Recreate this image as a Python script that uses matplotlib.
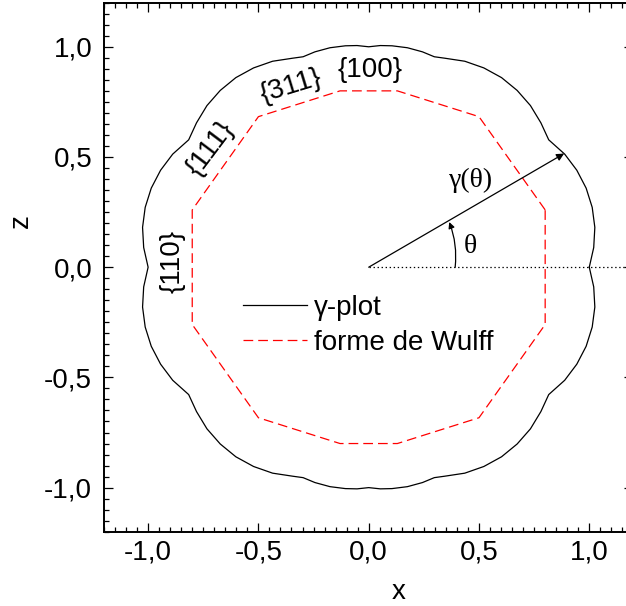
import numpy as np
import matplotlib
matplotlib.use("Agg")
import matplotlib.pyplot as plt
from matplotlib.ticker import MultipleLocator, FuncFormatter
from matplotlib.patches import FancyArrowPatch

plt.rcParams['font.family'] = ['Liberation Sans', 'DejaVu Sans']
plt.rcParams['lines.scale_dashes'] = False

# gamma-plot, first quadrant (theta in degrees, radius)
gamma_theta = [0, 5, 10, 15, 20, 25, 30, 35.3, 40, 45, 50, 55, 60, 65, 70, 72.7,
               76, 80, 84, 87, 90]
gamma_r = [1.000, 1.024, 1.041, 1.049, 1.049, 1.041, 1.026, 1.000,
           1.019, 1.037, 1.047, 1.050, 1.044, 1.031, 1.009, 1.000,
           1.007, 1.011, 1.010, 1.007, 1.000]

# Wulff shape vertices (x, z)
wulff_x = [0.80, 0.50, 0.13, -0.13, -0.50, -0.80, -0.80, -0.50, -0.13, 0.13, 0.50, 0.80, 0.80]
wulff_z = [0.26, 0.683, 0.80, 0.80, 0.683, 0.26, -0.26, -0.683, -0.80, -0.80, -0.683, -0.26, 0.26]

# facet labels
facet_labels = ['{100}', '{311}', '{111}', '{110}']
facet_x = [0.005, -0.353, -0.715, -0.887]
facet_z = [0.895, 0.822, 0.538, 0.025]
facet_rot = [0, 17, 53, 90]

legend_labels = ['γ-plot', 'forme de Wulff']

FS = 20

# build full closed curve by symmetry
th1 = np.radians(np.array(gamma_theta))
r1 = np.array(gamma_r)
th = np.concatenate([th1, np.pi - th1[::-1], np.pi + th1, 2 * np.pi - th1[::-1]])
rr = np.concatenate([r1, r1[::-1], r1, r1[::-1]])
gx = rr * np.cos(th)
gz = rr * np.sin(th)

W, H = 626, 606
fig = plt.figure(figsize=(W / 100, H / 100), dpi=100)
left, right, top, bottom = 104, 633.4, 2.7, 531.7
ax = fig.add_axes([left / W, (H - bottom) / H, (right - left) / W, (bottom - top) / H])

ax.plot(gx, gz, color='black', lw=0.9, label=legend_labels[0])
ax.plot(wulff_x, wulff_z, color='red', lw=0.9, dashes=(7, 3.6), label=legend_labels[1])

# dotted reference line
ax.plot([0, 1.2], [0, 0], color='black', lw=0.9, dashes=(1.0, 1.9))

# gamma(theta) arrow at 30 degrees
ang = np.radians(30.2)
ra = 1.025
ax.annotate('', xy=(ra * np.cos(ang), ra * np.sin(ang)), xytext=(0, 0),
            arrowprops=dict(arrowstyle='-|>', color='black', lw=0.9,
                            mutation_scale=11, shrinkA=0, shrinkB=0))
# theta arc arrow
arc = FancyArrowPatch((0.392, 0.0), (0.365, 0.205), connectionstyle='arc3,rad=0.12',
                      arrowstyle='-|>', mutation_scale=9, color='black', lw=0.9,
                      shrinkA=0, shrinkB=0)
ax.add_patch(arc)

serif = ['Liberation Serif', 'DejaVu Serif']
ax.text(0.463, 0.393, 'γ(θ)', fontsize=FS, family=serif, ha='center', va='center')
ax.text(0.463, 0.095, 'θ', fontsize=FS, family=serif, ha='center', va='center')

for lab, x, z, rot in zip(facet_labels, facet_x, facet_z, facet_rot):
    ax.text(x, z, lab, fontsize=FS, rotation=rot, ha='center', va='center')

ax.set_xlim(-1.2, 1.2)
ax.set_ylim(-1.2, 1.2)

fmt = FuncFormatter(lambda v, p: f"{v:.1f}".replace('.', ','))
ax.xaxis.set_major_locator(MultipleLocator(0.5))
ax.yaxis.set_major_locator(MultipleLocator(0.5))
ax.xaxis.set_minor_locator(MultipleLocator(0.05))
ax.yaxis.set_minor_locator(MultipleLocator(0.05))
ax.xaxis.set_major_formatter(fmt)
ax.yaxis.set_major_formatter(fmt)
ax.tick_params(which='both', direction='in', top=True, right=True, width=0.9)
ax.tick_params(which='major', length=6.5, labelsize=FS)
ax.tick_params(which='minor', length=3.6)
ax.tick_params(axis='x', which='major', pad=5.8)
ax.tick_params(axis='y', which='major', pad=8.5)
for s in ax.spines.values():
    s.set_linewidth(1.4)

fig.text(399 / W, (H - 599) / H, 'x', fontsize=FS, ha='center', va='baseline')
fig.text(20.5 / W, 1 - 221 / H, 'z', fontsize=FS, rotation=90, ha='center', va='center')

x0 = (243 - 368.8) / 220.5
y0 = (267 - 295) / 221.3
ax.legend(loc='upper left', bbox_to_anchor=(x0, y0), bbox_transform=ax.transData,
          frameon=False, fontsize=FS, handlelength=2.3, handletextpad=0.25,
          labelspacing=0.32, borderpad=0, borderaxespad=0)

fig.savefig('out.png', dpi=100)
